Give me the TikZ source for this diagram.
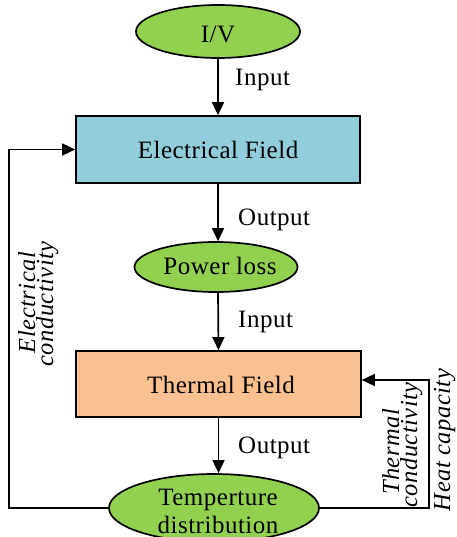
\documentclass[tikz,border=0pt]{standalone}
\usepackage{fontspec}
\setmainfont{Liberation Serif}[LetterSpace=2]
\usetikzlibrary{arrows.meta,shapes.geometric}
\definecolor{ellgreen}{HTML}{92D050}
\definecolor{rectblue}{HTML}{92CDDC}
\definecolor{rectpeach}{HTML}{FAC090}
\begin{document}
\begin{tikzpicture}[x=1pt,y=-1pt,
  every node/.style={font=\fontsize{25}{28}\selectfont, inner sep=0pt},
  ell/.style={ellipse, draw, line width=1.7pt, fill=ellgreen},
  box/.style={rectangle, draw, line width=1.7pt},
  arr/.style={line width=1.7pt, -{Triangle[length=13pt,width=12pt]}},
  lbl/.style={anchor=base},
  sidelbl/.style={anchor=base west},
  rlbl/.style={anchor=base, rotate=90, font=\fontsize{24.5}{28}\selectfont\itshape},
]
\useasboundingbox (0,0) rectangle (456,537);

\node[ell, minimum width=164pt, minimum height=53pt] (iv) at (218,31.5) {};
\node[lbl] (ivt) at (218,43) {I/V};

\node[box, fill=rectblue, minimum width=284pt, minimum height=67pt] (ef) at (218,149.5) {};
\node[lbl] (eft) at (218,159) {Electrical Field};

\node[ell, minimum width=163pt, minimum height=50pt] (pl) at (216,267) {};
\node[lbl] (plt) at (220,274) {Power loss};

\node[box, fill=rectpeach, minimum width=285pt, minimum height=66pt] (tf) at (218.5,384) {};
\node[lbl] (tft) at (221,393) {Thermal Field};

\node[ell, minimum width=210pt, minimum height=68pt] (td) at (214,508) {};
\node[lbl] (td1) at (218,505) {Temperture};
\node[lbl] (td2) at (218,533) {distribution};

\draw[arr] (iv.south) -- (ef.north);
\draw[arr] (ef.south) -- (ef.south |- pl.north);
\draw[arr] (pl.south -| ef.south) -- (tf.north);
\draw[arr] (tf.south) -- (tf.south |- td.north);

\coordinate (lb) at (9,508);
\coordinate (rb) at (429,508);
\draw[arr] (td.west) -- (lb) |- (ef.west);
\draw[arr] (td.east) -- (rb) |- ([yshift=4pt]tf.east);

\node[sidelbl] (in1) at (235,86) {Input};
\node[sidelbl] (out1) at (238,225) {Output};
\node[sidelbl] (in2) at (238,327) {Input};
\node[sidelbl] (out2) at (238,453) {Output};

\node[rlbl] (ec1) at (35,302.5) {Electrical};
\node[rlbl] (ec2) at (53,304) {conductivity};
\node[rlbl] (tc1) at (399,452) {Thermal};
\node[rlbl] (tc2) at (417,445) {conductivity};
\node[rlbl] (hc) at (450,440) {Heat capacity};
\end{tikzpicture}
\end{document}
